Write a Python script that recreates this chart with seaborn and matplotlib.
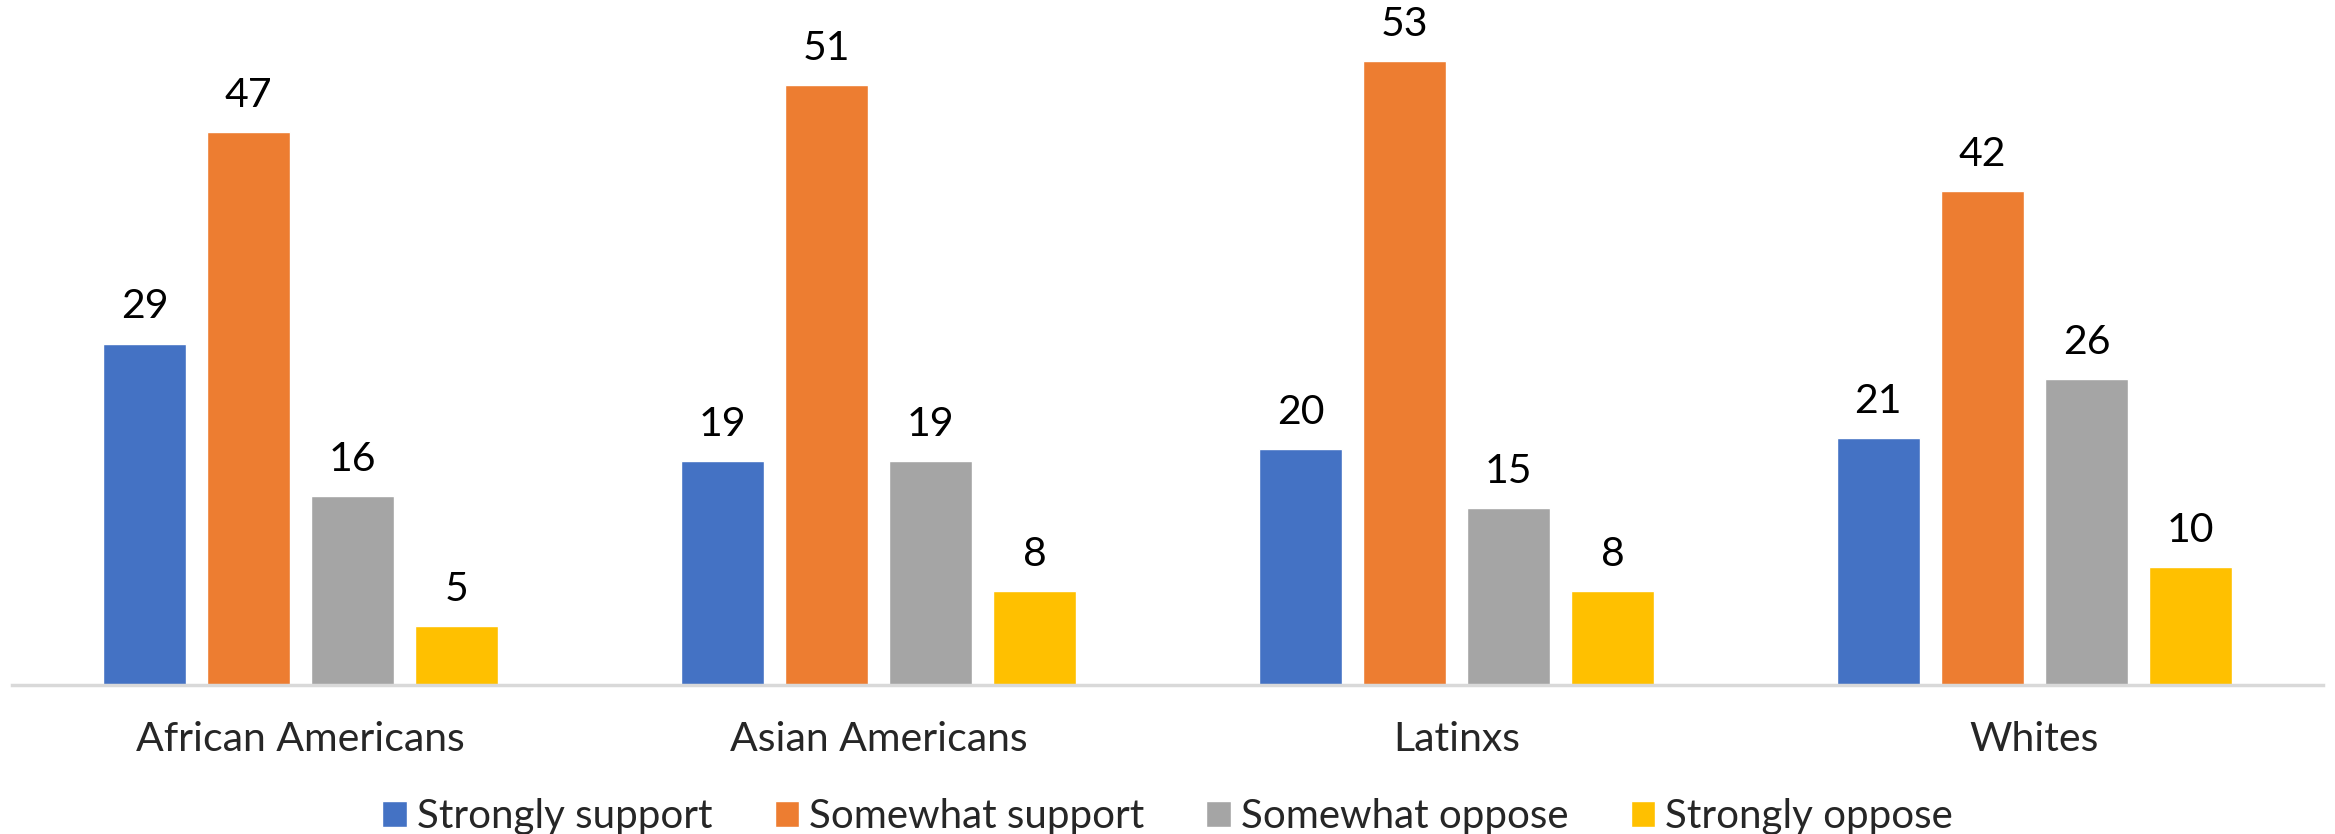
import matplotlib
matplotlib.use("Agg")
import matplotlib.pyplot as plt
import seaborn as sns
import pandas as pd

groups = ["African Americans", "Asian Americans", "Latinxs", "Whites"]
responses = ["Strongly support", "Somewhat support", "Somewhat oppose", "Strongly oppose"]
strongly_support = [29, 19, 20, 21]
somewhat_support = [47, 51, 53, 42]
somewhat_oppose = [16, 19, 15, 26]
strongly_oppose = [5, 8, 8, 10]
colors = ["#4472C4", "#ED7D31", "#A5A5A5", "#FFC000"]

series = [strongly_support, somewhat_support, somewhat_oppose, strongly_oppose]
rows = []
for resp, vals in zip(responses, series):
    for g, v in zip(groups, vals):
        rows.append({"group": g, "response": resp, "value": v})
df = pd.DataFrame(rows)

sns.set_style("white")
plt.rcParams["font.family"] = ["Lato", "DejaVu Sans"]

fig = plt.figure(figsize=(23.35, 8.34), dpi=100)
ax = fig.add_axes([0.005, 0.179, 0.99, 0.821])

sns.barplot(data=df, x="group", y="value", hue="response", order=groups,
            hue_order=responses, palette=colors, width=0.72, gap=0.2,
            saturation=1, ax=ax, legend=True)

for c in ax.containers:
    ax.bar_label(c, padding=13, fontsize=29.5, color="black")

ax.set_xlim(-0.5, 3.5)
ax.set_ylim(0, 58.2)
ax.set_xlabel("")
ax.set_ylabel("")
ax.set_yticks([])
ax.tick_params(axis="x", length=0, labelsize=29.5, pad=26)
for s in ["top", "right", "left"]:
    ax.spines[s].set_visible(False)
ax.spines["bottom"].set_color("#D9D9D9")
ax.spines["bottom"].set_linewidth(2.5)

handles, labels = ax.get_legend_handles_labels()
ax.get_legend().remove()
fig.legend(handles, labels, loc="center", bbox_to_anchor=(0.5, 0.021), ncol=4,
           frameon=False, fontsize=29, handlelength=0.6, handleheight=0.6,
           handletextpad=0.25, columnspacing=1.55, borderpad=0)

fig.savefig("out.png", dpi=100)
